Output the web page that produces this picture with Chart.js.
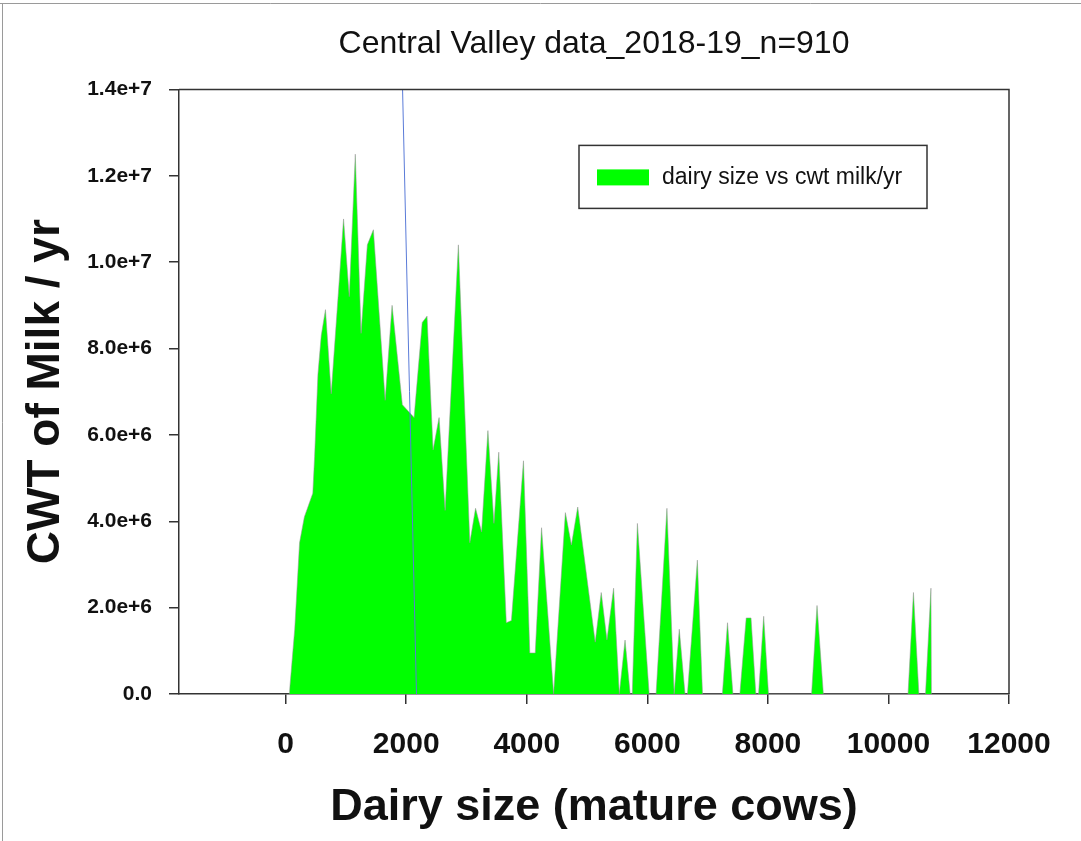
<!DOCTYPE html>
<html>
<head>
<meta charset="utf-8">
<title>Central Valley data_2018-19_n=910</title>
<script src="https://cdn.jsdelivr.net/npm/chart.js"></script>
<style>
  html, body { margin: 0; padding: 0; background: #ffffff; }
  #wrap { width: 1081px; height: 841px; }
</style>
</head>
<body>
<div id="wrap"><canvas id="dairyChart" width="1081" height="841"></canvas></div>
<script>
// dairy size (mature cows) and cwt milk/yr
var sizeValues = [60, 150, 230, 310, 450, 480, 535, 590, 660, 755,
    895, 960, 1055, 1155, 1250, 1355, 1455, 1650, 1765, 1935,
    2130, 2265, 2345, 2445, 2545, 2645, 2865, 3055, 3150, 3250,
    3355, 3455, 3535, 3660, 3745, 3945, 4050, 4140, 4245, 4445,
    4640, 4740, 4845, 5135, 5235, 5330, 5440, 5535, 5630, 5715,
    5750, 5835, 6030, 6145, 6325, 6445, 6530, 6625, 6665, 6830,
    6915, 7245, 7330, 7420, 7535, 7640, 7720, 7800, 7845, 7930,
    8010, 8725, 8815, 8920, 10325, 10415, 10505, 10615, 10705, 10715];
var cwtValues = [0, 1.5e6, 3.5e6, 4.1e6, 4.65e6, 5.5e6, 7.4e6, 8.3e6, 8.9e6, 6.95e6,
    9.7e6, 1.1e7, 9.2e6, 1.25e7, 8.35e6, 1.04e7, 1.075e7, 6.8e6, 9.0e6, 6.7e6,
    6.4e6, 8.6e6, 8.75e6, 5.65e6, 6.4e6, 4.25e6, 1.04e7, 3.5e6, 4.3e6, 3.75e6,
    6.1e6, 3.95e6, 5.6e6, 1.65e6, 1.7e6, 5.4e6, 9.5e5, 9.5e5, 3.85e6, 0,
    4.2e6, 3.45e6, 4.33e6, 1.2e6, 2.35e6, 1.25e6, 2.45e6, 0, 1.25e6, 0,
    0, 3.95e6, 0, 0, 4.3e6, 0, 1.5e6, 0, 0, 3.1e6,
    0, 0, 1.65e6, 0, 0, 1.76e6, 1.76e6, 0, 0, 1.8e6,
    0, 0, 2.05e6, 0, 0, 2.35e6, 0, 0, 2.45e6, 0];

// the thin blue line crossing the plot
var trendSize = [1939, 2170];
var trendCwt = [1.4e7, 0];

var xTickValues = [0, 2000, 4000, 6000, 8000, 10000, 12000];

var seriesLabel = 'dairy size vs cwt milk/yr';
var sansFont = "'Liberation Sans', Arial, sans-serif";

function toPoints(xs, ys) {
    var pts = [];
    for (let i = 0; i < xs.length; i++) {
        pts.push({x: xs[i], y: ys[i]});
    }
    return pts;
}

//Box on top and right of the plot, plus the thin picture frame
var plotFrame = {
    id: 'plotFrame',
    afterDatasetsDraw: function(chart) {
        var ctx = chart.ctx;
        var a = chart.chartArea;
        ctx.save();
        ctx.strokeStyle = '#333333';
        ctx.lineWidth = 1.5;
        ctx.beginPath();
        ctx.moveTo(a.left, a.top);
        ctx.lineTo(a.right, a.top);
        ctx.lineTo(a.right, a.bottom);
        ctx.stroke();

        ctx.strokeStyle = '#9a9a9a';
        ctx.lineWidth = 1;
        ctx.beginPath();
        ctx.moveTo(0, 3.5);
        ctx.lineTo(chart.width, 3.5);
        ctx.moveTo(2.5, 3.5);
        ctx.lineTo(2.5, chart.height);
        ctx.stroke();
        ctx.restore();
    }
};

//Legend box inside the plot
var legendBox = {
    id: 'legendBox',
    afterDraw: function(chart) {
        var ctx = chart.ctx;
        var a = chart.chartArea;
        var left = a.left + 400;
        var top = a.top + 56;
        var ds = chart.data.datasets[0];
        ctx.save();
        ctx.fillStyle = '#ffffff';
        ctx.fillRect(left, top, 348, 63);
        ctx.strokeStyle = '#333333';
        ctx.lineWidth = 1.5;
        ctx.strokeRect(left, top, 348, 63);
        ctx.fillStyle = ds.backgroundColor;
        ctx.fillRect(left + 18, top + 24, 52, 16);
        ctx.fillStyle = '#111111';
        ctx.font = '23px ' + sansFont;
        ctx.textBaseline = 'middle';
        ctx.fillText(ds.label, left + 83, top + 32);
        ctx.restore();
    }
};

var ctx = document.getElementById('dairyChart').getContext('2d');

new Chart(ctx, {
    type: 'line',
    data: {
        datasets: [
            {
                label: seriesLabel,
                data: toPoints(sizeValues, cwtValues),
                backgroundColor: '#00ff00',
                borderColor: 'rgba(150,150,150,0.55)',
                borderWidth: 1,
                pointRadius: 0,
                tension: 0,
                fill: 'origin',
                order: 1
            },
            {
                label: 'trend',
                data: toPoints(trendSize, trendCwt),
                borderColor: '#5a7bd8',
                borderWidth: 1,
                pointRadius: 0,
                fill: false,
                order: 0
            }
        ]
    },
    options: {
        responsive: false,
        animation: false,
        layout: {
            padding: {left: 0, right: 72, top: 0, bottom: 0}
        },
        plugins: {
            legend: {display: false},
            tooltip: {enabled: false},
            title: {
                display: true,
                text: 'Central Valley data_2018-19_n=910',
                fullSize: false,
                color: '#111111',
                font: {family: sansFont, size: 32, weight: 'normal', lineHeight: 1.2},
                padding: {top: 25, bottom: 26}
            }
        },
        scales: {
            x: {
                type: 'linear',
                min: -1770,
                max: 12000,
                afterFit: function(scale) { scale.height = 147; },
                afterBuildTicks: function(scale) {
                    scale.ticks = xTickValues.map(v => ({value: v}));
                },
                grid: {drawOnChartArea: false, drawTicks: true, tickLength: 10, color: '#333333', lineWidth: 1.5},
                border: {color: '#333333', width: 1.5},
                ticks: {
                    color: '#111111',
                    padding: 23,
                    maxRotation: 0,
                    autoSkip: false,
                    font: {family: sansFont, size: 30, weight: 'bold', lineHeight: 1.2},
                    callback: function(value) { return String(value); }
                },
                title: {
                    display: true,
                    text: 'Dairy size (mature cows)',
                    color: '#111111',
                    font: {family: sansFont, size: 45, weight: 'bold', lineHeight: 1},
                    padding: {top: 0, bottom: 11}
                }
            },
            y: {
                min: 0,
                max: 1.4e7,
                afterFit: function(scale) { scale.width = 179; },
                grid: {drawOnChartArea: false, drawTicks: true, tickLength: 10, color: '#333333', lineWidth: 1.5},
                border: {color: '#333333', width: 1.5},
                ticks: {
                    stepSize: 2e6,
                    color: '#111111',
                    padding: 17,
                    font: {family: sansFont, size: 21, weight: 'bold'},
                    callback: function(value) {
                        if (value === 0) return '0.0';
                        return value.toExponential(1);
                    }
                },
                title: {
                    display: true,
                    text: 'CWT of Milk / yr',
                    color: '#111111',
                    font: {family: sansFont, size: 46, weight: 'bold', lineHeight: 1},
                    padding: {top: 23, bottom: 0}
                }
            }
        }
    },
    plugins: [plotFrame, legendBox]
});
</script>
</body>
</html>
